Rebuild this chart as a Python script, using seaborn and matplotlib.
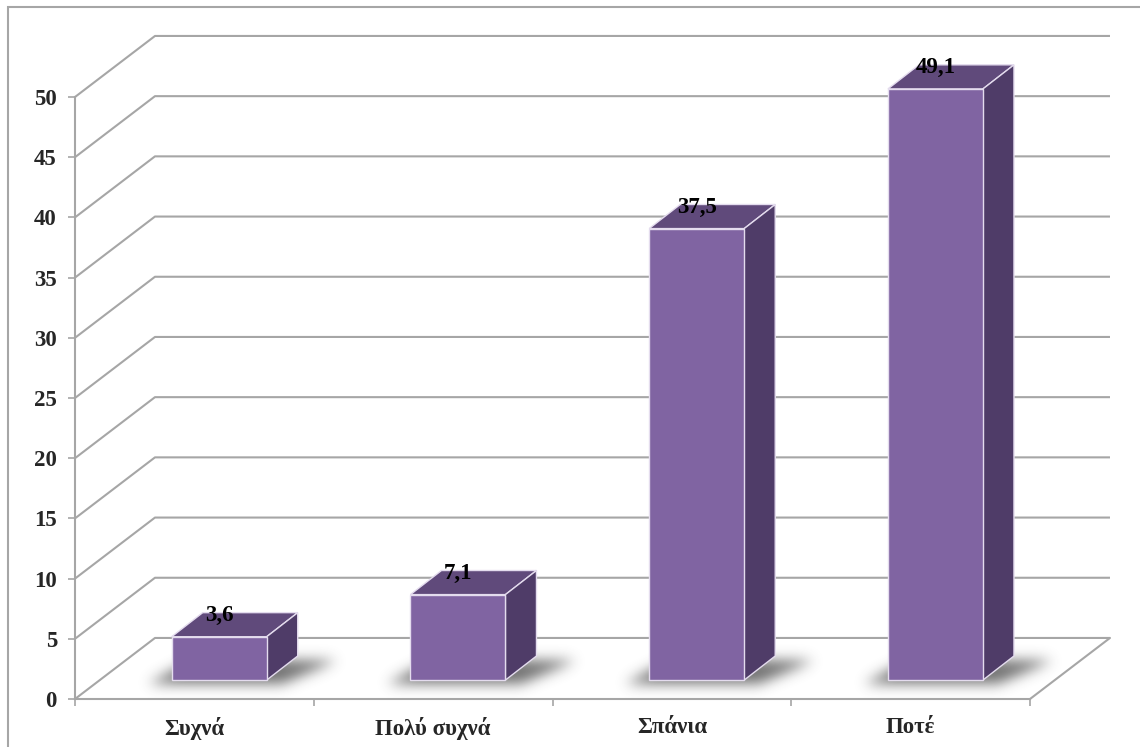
import numpy as np
import pandas as pd
import matplotlib
matplotlib.use("Agg")
import matplotlib.pyplot as plt
from matplotlib.patches import Polygon, Rectangle
from matplotlib.path import Path
import seaborn as sns

# ---- data -------------------------------------------------------------
categories = ["Συχνά", "Πολύ συχνά", "Σπάνια", "Ποτέ"]
values = [3.6, 7.1, 37.5, 49.1]
value_labels = ["3,6", "7,1", "37,5", "49,1"]
y_ticks = [0, 5, 10, 15, 20, 25, 30, 35, 40, 45, 50]

# ---- style ------------------------------------------------------------
sns.set_style("white")
plt.rcParams["font.family"] = ["Liberation Serif", "DejaVu Serif"]
plt.rcParams["font.weight"] = "bold"

FRONT = "#8064A2"
TOP = "#604A7B"
SIDE = "#4F3C68"
EDGE = "#E4DCEE"
GRID = "#A6A6A6"
FS = 16.5

W, H = 1140, 747
fig = plt.figure(figsize=(W / 100, H / 100), dpi=100)
fig.patch.set_facecolor("white")
ax = fig.add_axes([75 / W, 48 / H, 955 / W, 602 / H])
ax.set_xlim(-0.5, 3.5)
ax.set_ylim(0, 50)

# screen pixels per data unit
PX_X = 955 / 4
PX_Y = 602 / 50

# depth of the 3-D box (floor / back wall), in data units
DX, DY = 0.335, 5.07
# bars sit in the middle of the depth
f_front = 0.31
bar_dx, bar_dy = 0.130, 2.0
bar_width = 0.398


def blur(img, sigma):
    r = int(3 * sigma)
    k = np.exp(-np.arange(-r, r + 1) ** 2 / (2 * sigma ** 2))
    k /= k.sum()
    out = np.apply_along_axis(lambda m: np.convolve(m, k, mode="same"), 0, img)
    out = np.apply_along_axis(lambda m: np.convolve(m, k, mode="same"), 1, out)
    return out


# ---- back wall and floor ---------------------------------------------
for v in y_ticks:
    xs = [-0.5, -0.5 + DX, 3.5 + DX]
    ys = [v, v + DY, v + DY]
    ax.plot(xs, ys, color=GRID, lw=1.5, zorder=1, clip_on=False,
            solid_capstyle="butt")
ax.plot([3.5, 3.5 + DX], [0, DY], color=GRID, lw=1.5, zorder=1, clip_on=False)

# ---- bars ---------------------------------------------------------------
df = pd.DataFrame({"cat": categories, "val": values})
sns.barplot(data=df, x="cat", y="val", color=FRONT, width=bar_width,
            saturation=1, ax=ax, zorder=4, edgecolor=EDGE, linewidth=1.0)

ox, oy = f_front * DX, f_front * DY
for patch, lab in zip(list(ax.patches), value_labels):
    patch.set_x(patch.get_x() + ox)
    patch.set_y(oy)
    patch.set_clip_on(False)
    x0 = patch.get_x()
    x1 = x0 + patch.get_width()
    y0 = patch.get_y()
    y1 = y0 + patch.get_height()

    # soft floor shadow: blurred footprint rendered as an image
    ex0, ex1 = x0 - 0.25, x1 + bar_dx + 0.35
    ey0, ey1 = y0 - 2.0, y0 + bar_dy + 1.8
    nx = int((ex1 - ex0) * PX_X)
    ny = int((ey1 - ey0) * PX_Y)
    gx = np.linspace(ex0, ex1, nx)
    gy = np.linspace(ey1, ey0, ny)
    XX, YY = np.meshgrid(gx, gy)
    foot = Path([(x0 - 0.10, y0 - 0.35), (x1 + 0.06, y0 - 0.35),
                 (x1 + bar_dx + 0.16, y0 + bar_dy * 0.8),
                 (x0 + bar_dx - 0.05, y0 + bar_dy * 0.8)])
    mask = foot.contains_points(np.c_[XX.ravel(), YY.ravel()]).reshape(ny, nx)
    alpha = blur(mask.astype(float), 6.5) * 0.75
    rgba = np.zeros((ny, nx, 4))
    rgba[..., :3] = 0.25
    rgba[..., 3] = alpha
    ax.imshow(rgba, extent=(ex0, ex1, ey0, ey1), aspect="auto",
              zorder=2, clip_on=False, interpolation="bilinear")

    top = Polygon([(x0, y1), (x1, y1), (x1 + bar_dx, y1 + bar_dy),
                   (x0 + bar_dx, y1 + bar_dy)], closed=True,
                  facecolor=TOP, edgecolor=EDGE, lw=1.0, zorder=3,
                  clip_on=False)
    side = Polygon([(x1, y0), (x1 + bar_dx, y0 + bar_dy),
                    (x1 + bar_dx, y1 + bar_dy), (x1, y1)], closed=True,
                   facecolor=SIDE, edgecolor=EDGE, lw=1.0, zorder=3,
                   clip_on=False)
    ax.add_patch(top)
    ax.add_patch(side)

    ax.text((x0 + x1) / 2, y1 + 1.75, lab, ha="center", va="center",
            fontsize=FS, fontweight="bold", color="black", zorder=6,
            clip_on=False)

ax.set_xlim(-0.5, 3.5)
ax.set_ylim(0, 50)

# ---- axes styling ---------------------------------------------------------
for s in ["top", "right"]:
    ax.spines[s].set_visible(False)
for s in ["left", "bottom"]:
    ax.spines[s].set_color(GRID)
    ax.spines[s].set_linewidth(1.5)
    ax.spines[s].set_zorder(5)

ax.set_yticks(y_ticks)
ax.set_yticklabels([str(t) for t in y_ticks])
ax.set_xticks(range(len(categories)))
ax.set_xticklabels(categories)
ax.set_xticks([-0.5, 0.5, 1.5, 2.5, 3.5], minor=True)
ax.tick_params(axis="y", which="major", direction="out", length=5, width=1.2,
               color=GRID, pad=8, labelsize=FS, left=True)
ax.tick_params(axis="x", which="major", length=0, pad=13, labelsize=FS)
ax.tick_params(axis="x", which="minor", direction="out", length=5, width=1.2,
               color=GRID, bottom=True)
for t in ax.get_xticklabels() + ax.get_yticklabels():
    t.set_fontweight("bold")
ax.set_xlabel("")
ax.set_ylabel("")
ax.set_facecolor("none")
ax.grid(False)

# chart-area border
fig.patches.append(Rectangle((8 / W, -0.1), 1.2, 1.1 - 7 / H,
                             transform=fig.transFigure, fill=False,
                             edgecolor=GRID, lw=1.5))

fig.savefig("out.png", dpi=100)
